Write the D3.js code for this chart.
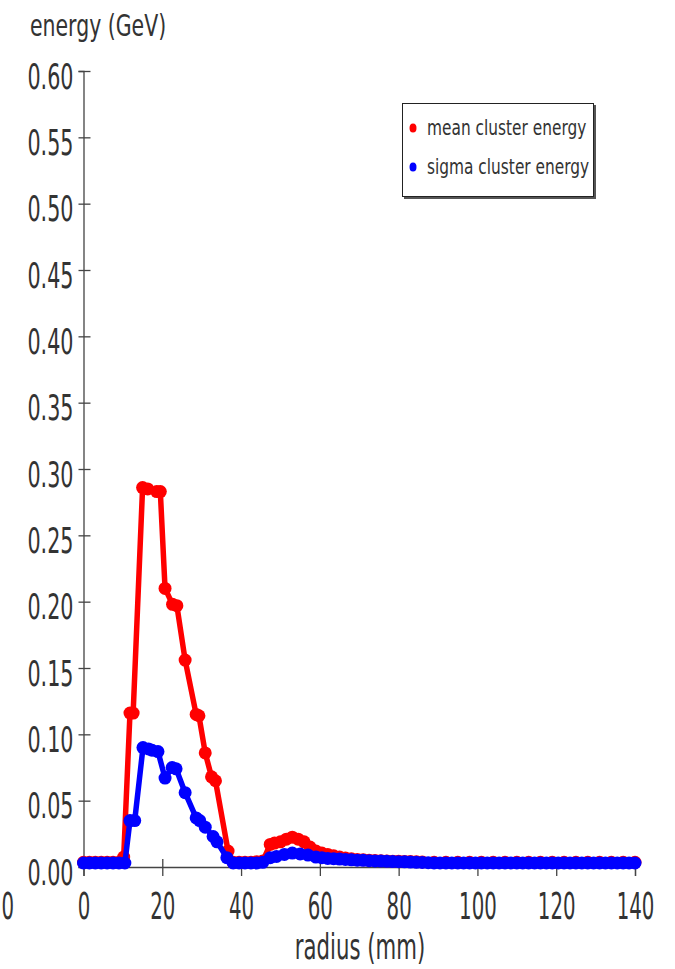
<head>
    <meta charset="utf-8">
    <title>cluster energy vs radius</title>
    <script src="https://d3js.org/d3.v7.min.js"></script>
    <style>
        body { margin: 0; background: #fff; }
        text { font-family: "DejaVu Sans", sans-serif; fill: #333; }
    </style>
</head>

<body>
    <svg width="675" height="969"></svg>
    <script>
        // mean cluster energy (GeV) vs radius (mm)
        var meanX = [0, 1.5, 3, 4.5, 6, 7.5, 9, 10.2, 11.8, 12.6, 15.0, 16.3, 18.6, 19.5, 20.7, 22.6, 23.7, 25.8, 28.6,
            29.3, 30.9, 32.5, 33.5, 36.7, 38, 39.5, 41, 42.5, 44, 45.5, 47.4, 48.5, 50, 51.5, 53, 54.5, 56, 57.5, 59,
            60.5, 62, 63.5, 65, 66.5, 68, 69.5, 71, 72.5, 74, 75.5, 77, 78.5, 80, 81.5, 83, 84.5, 86, 89, 92, 95, 98,
            101, 104, 107, 110, 113, 116, 119, 122, 125, 128, 131, 134, 137, 140];
        var meanY = [0.0035, 0.0035, 0.0035, 0.0035, 0.0035, 0.0035, 0.0035, 0.0075, 0.116, 0.116, 0.286, 0.285, 0.283,
            0.283, 0.210, 0.198, 0.197, 0.156, 0.115, 0.114, 0.086, 0.068, 0.065, 0.012, 0.0035, 0.0035, 0.0035,
            0.0035, 0.004, 0.0045, 0.017, 0.018, 0.019, 0.021, 0.0225, 0.021, 0.019, 0.015, 0.012, 0.0105, 0.0095,
            0.0085, 0.0075, 0.0068, 0.0062, 0.0057, 0.0054, 0.0051, 0.0049, 0.0047, 0.0046, 0.0044, 0.0043, 0.0042,
            0.0041, 0.004, 0.0038, 0.0036, 0.0035, 0.0035, 0.0035, 0.0035, 0.0035, 0.0035, 0.0035, 0.0035, 0.0035,
            0.0035, 0.0035, 0.0035, 0.0035, 0.0035, 0.0035, 0.0035, 0.0035];

        // sigma cluster energy (GeV) vs radius (mm)
        var sigmaX = [0, 1.5, 3, 4.5, 6, 7.5, 9, 10.5, 11.8, 13.0, 15.1, 16.5, 17.4, 18.9, 20.7, 22.5, 23.5, 25.8, 28.6,
            29.5, 30.9, 32.9, 33.9, 36.4, 38, 39.5, 41, 42.5, 44, 45.5, 47.4, 49, 51, 53, 55, 57, 59, 60.5, 62, 63.5,
            65, 66.5, 68, 69.5, 71, 72.5, 74, 75.5, 77, 78.5, 80, 81.5, 83, 84.5, 86, 87.5, 89, 90.5, 92, 93.5, 95,
            96.5, 98, 99.5, 101, 102.5, 104, 105.5, 107, 108.5, 110, 111.5, 113, 114.5, 116, 117.5, 119, 120.5, 122,
            123.5, 125, 126.5, 128, 129.5, 131, 132.5, 134, 135.5, 137, 138.5, 140];
        var sigmaY = [0.003, 0.003, 0.003, 0.003, 0.003, 0.003, 0.003, 0.003, 0.035, 0.035, 0.090, 0.089, 0.088, 0.087,
            0.067, 0.075, 0.074, 0.056, 0.037, 0.035, 0.030, 0.023, 0.019, 0.007, 0.003, 0.003, 0.003, 0.003, 0.003,
            0.0035, 0.007, 0.008, 0.0095, 0.0105, 0.0098, 0.009, 0.0075, 0.007, 0.0065, 0.0062, 0.006, 0.0057, 0.0054,
            0.0051, 0.005, 0.0048, 0.0046, 0.0045, 0.0043, 0.0041, 0.004, 0.0039, 0.0037, 0.0035, 0.0034, 0.0032,
            0.003, 0.003, 0.003, 0.003, 0.003, 0.003, 0.003, 0.003, 0.003, 0.003, 0.003, 0.003, 0.003, 0.003, 0.003,
            0.003, 0.003, 0.003, 0.003, 0.003, 0.003, 0.003, 0.003, 0.003, 0.003, 0.003, 0.003, 0.003, 0.003, 0.003,
            0.003, 0.003, 0.003, 0.003, 0.003];

        var xTicks = [0, 20, 40, 60, 80, 100, 120, 140];
        var yTicks = [0, 0.05, 0.10, 0.15, 0.20, 0.25, 0.30, 0.35, 0.40, 0.45, 0.50, 0.55, 0.60];
        var seriesNames = ["mean cluster energy", "sigma cluster energy"];
        var seriesColors = ["#ff0000", "#0000ff"];

        var svg = d3.select("svg");

        var x = d3.scaleLinear().domain([0, 140]).range([83.5, 635]);
        var y = d3.scaleLinear().domain([0, 0.6]).range([867, 71]);

        // y axis
        var yAxis = svg.append("g")
            .attr("transform", "translate(" + x(0) + ",0)")
            .call(d3.axisLeft(y).tickValues(yTicks).tickSize(5).tickFormat(d3.format(".2f")));
        yAxis.select(".domain").attr("stroke", "#444").attr("stroke-width", 1.3);
        yAxis.selectAll(".tick line").attr("x1", 7).attr("stroke", "#444").attr("stroke-width", 1.3);
        yAxis.selectAll(".tick text")
            .attr("x", null).attr("dy", null)
            .attr("y", 17)
            .attr("transform", "translate(-10,0) scale(0.575,1)")
            .style("font-size", "36px").attr("fill", "#333");

        // x axis
        var xAxis = svg.append("g")
            .attr("transform", "translate(0," + y(0) + ")")
            .call(d3.axisBottom(x).tickValues(xTicks).tickSize(9));
        xAxis.select(".domain").attr("stroke", "#444").attr("stroke-width", 1.3);
        xAxis.selectAll(".tick line").attr("y1", -8).attr("stroke", "#444").attr("stroke-width", 1.3);
        xAxis.selectAll(".tick text")
            .attr("dy", null).attr("y", 52)
            .attr("transform", "scale(0.52,1)")
            .style("font-size", "38px").attr("fill", "#333");

        // clipped label at the left edge, as in the source
        svg.append("text")
            .attr("text-anchor", "end")
            .attr("transform", "translate(14,919) scale(0.52,1)")
            .style("font-size", "38px")
            .text("-20");

        svg.append("text")
            .attr("transform", "translate(30,36) scale(0.66,1)")
            .style("font-size", "31px")
            .text("energy (GeV)");

        svg.append("text")
            .attr("text-anchor", "middle")
            .attr("transform", "translate(360,959) scale(0.59,1)")
            .style("font-size", "36px")
            .text("radius (mm)");

        var line = d3.line()
            .x(function (d) { return x(d[0]); })
            .y(function (d) { return y(d[1]); });

        var series = [
            d3.zip(meanX, meanY),
            d3.zip(sigmaX, sigmaY)
        ];

        series.forEach(function (pts, i) {
            var g = svg.append("g");
            g.append("path")
                .attr("d", line(pts))
                .attr("fill", "none")
                .attr("stroke", seriesColors[i])
                .attr("stroke-width", 5.5)
                .attr("stroke-linejoin", "round");
            g.selectAll("circle")
                .data(pts)
                .enter()
                .append("circle")
                .attr("cx", function (d) { return x(d[0]); })
                .attr("cy", function (d) { return y(d[1]); })
                .attr("r", 6.5)
                .attr("fill", seriesColors[i]);
        });

        // legend
        var legend = svg.append("g");
        legend.append("rect")
            .attr("x", 404).attr("y", 105).attr("width", 192).attr("height", 94)
            .attr("fill", "#555");
        legend.append("rect")
            .attr("x", 402.5).attr("y", 103.5).attr("width", 191).attr("height", 93)
            .attr("fill", "#fff").attr("stroke", "#222").attr("stroke-width", 1);
        seriesNames.forEach(function (name, i) {
            legend.append("ellipse")
                .attr("cx", 413).attr("cy", 128 + i * 39)
                .attr("rx", 3.5).attr("ry", 4.5)
                .attr("fill", seriesColors[i]);
            legend.append("text")
                .attr("transform", "translate(427," + (135 + i * 39) + ") scale(0.7,1)")
                .style("font-size", "22px")
                .text(name);
        });
    </script>

</body>
